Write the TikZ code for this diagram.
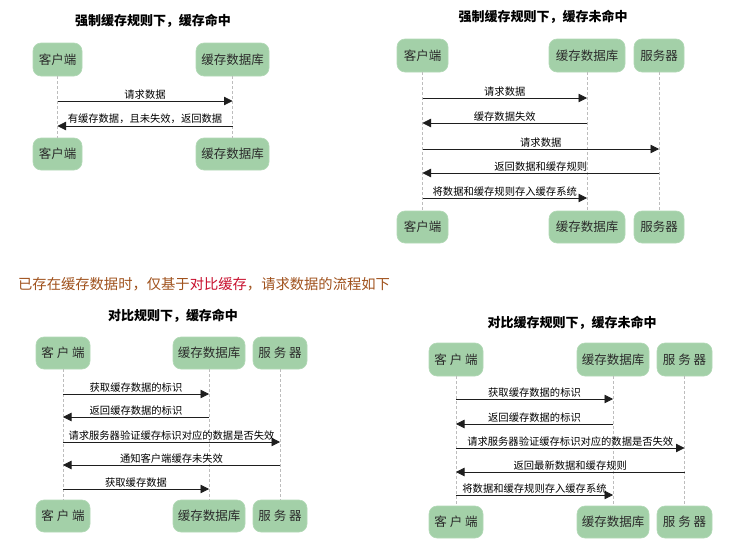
\documentclass[tikz,border=0pt]{standalone}
\usepackage{fontspec}
\setmainfont{Noto Sans CJK SC}
\usetikzlibrary{arrows.meta}
\definecolor{boxgreen}{HTML}{A3D0A8}
\definecolor{boxedge}{HTML}{B2D9B6}
\definecolor{boxtext}{HTML}{2B2B2B}
\definecolor{lifegray}{HTML}{BDBDBD}
\definecolor{msgline}{HTML}{1E1E1E}
\definecolor{noteb}{HTML}{A0521D}
\definecolor{noter}{HTML}{C8102E}
\tikzset{
  actor/.style={draw=boxedge, fill=boxgreen, rounded corners=8pt, line width=0.6pt,
    minimum height=33pt, inner sep=0pt, text=boxtext, font=\fontsize{12.5}{14}\selectfont},
  life/.style={draw=lifegray, dash pattern=on 3pt off 2pt, line width=0.7pt},
  msg/.style={draw=msgline, line width=0.8pt, -{Triangle[length=8.5pt,width=8.5pt]}},
  lbl/.style={midway, above, inner sep=1.5pt, font=\fontsize{10.3}{12}\selectfont, text=black},
  ttl/.style={font=\bfseries\fontsize{13}{15}\selectfont, text=black}
}
\begin{document}
\begin{tikzpicture}[x=1pt,y=-1pt]
\useasboundingbox[fill=white] (0,0) rectangle (732,549);

% ---------- Q1 ----------
\node[ttl] (t1) at (153,21) {强制缓存规则下，缓存命中};
\node[actor, minimum width=49pt] (a1c) at (57.5,59.5) {客户端};
\node[actor, minimum width=73pt] (a1d) at (232.5,59.5) {缓存数据库};
\node[actor, minimum width=49pt, minimum height=32pt] (b1c) at (57.5,154) {客户端};
\node[actor, minimum width=73pt, minimum height=32pt] (b1d) at (232.5,154) {缓存数据库};
\draw[life] (a1c) -- (b1c);
\draw[life] (a1d) -- (b1d);
\draw[msg] (a1c |- 0,101) -- node[lbl]{请求数据} (a1d |- 0,101);
\draw[msg] (a1d |- 0,126) -- node[lbl]{有缓存数据，且未失效，返回数据} (a1c |- 0,126);

% ---------- Q2 ----------
\node[ttl] (t2) at (543,17) {强制缓存规则下，缓存未命中};
\node[actor, minimum width=51pt] (a2c) at (422.5,55.5) {客户端};
\node[actor, minimum width=76pt] (a2d) at (587,55.5) {缓存数据库};
\node[actor, minimum width=50pt] (a2s) at (659,55.5) {服务器};
\node[actor, minimum width=51pt, minimum height=32pt] (b2c) at (422.5,227) {客户端};
\node[actor, minimum width=76pt, minimum height=32pt] (b2d) at (587,227) {缓存数据库};
\node[actor, minimum width=50pt, minimum height=32pt] (b2s) at (659,227) {服务器};
\draw[life] (a2c) -- (b2c);
\draw[life] (a2d) -- (b2d);
\draw[life] (a2s) -- (b2s);
\draw[msg] (a2c |- 0,98) -- node[lbl]{请求数据} (a2d |- 0,98);
\draw[msg] (a2d |- 0,123) -- node[lbl]{缓存数据失效} (a2c |- 0,123);
\draw[msg] (a2c |- 0,149) -- node[lbl]{请求数据} (a2s |- 0,149);
\draw[msg] (a2s |- 0,173) -- node[lbl]{返回数据和缓存规则} (a2c |- 0,173);
\draw[msg] (a2c |- 0,198) -- node[lbl]{将数据和缓存规则存入缓存系统} (a2d |- 0,198);

% ---------- middle note ----------
\node[anchor=west, inner sep=0pt, font=\fontsize{14.3}{16}\selectfont, text=noteb] (note) at (18,284)
  {已存在缓存数据时，仅基于\textcolor{noter}{对比缓存}，请求数据的流程如下};

% ---------- Q3 ----------
\node[ttl] (t3) at (173,316) {对比规则下，缓存命中};
\node[actor, minimum width=54pt, minimum height=32pt] (a3c) at (63,353) {客 户 端};
\node[actor, minimum width=72pt, minimum height=32pt] (a3d) at (209,353) {缓存数据库};
\node[actor, minimum width=54pt, minimum height=32pt] (a3s) at (280,353) {服 务 器};
\node[actor, minimum width=54pt, minimum height=32pt] (b3c) at (63,516) {客 户 端};
\node[actor, minimum width=72pt, minimum height=32pt] (b3d) at (209,516) {缓存数据库};
\node[actor, minimum width=54pt, minimum height=32pt] (b3s) at (280,516) {服 务 器};
\draw[life] (a3c) -- (b3c);
\draw[life] (a3d) -- (b3d);
\draw[life] (a3s) -- (b3s);
\draw[msg] (a3c |- 0,394) -- node[lbl]{获取缓存数据的标识} (a3d |- 0,394);
\draw[msg] (a3d |- 0,417) -- node[lbl]{返回缓存数据的标识} (a3c |- 0,417);
\draw[msg] (a3c |- 0,442) -- node[lbl]{请求服务器验证缓存标识对应的数据是否失效} (a3s |- 0,442);
\draw[msg] (a3s |- 0,465) -- node[lbl]{通知客户端缓存未失效} (a3c |- 0,465);
\draw[msg] (a3c |- 0,489) -- node[lbl]{获取缓存数据} (a3d |- 0,489);

% ---------- Q4 ----------
\node[ttl] (t4) at (572,323) {对比缓存规则下，缓存未命中};
\node[actor, minimum width=54pt] (a4c) at (456,359.5) {客 户 端};
\node[actor, minimum width=72pt] (a4d) at (613,359.5) {缓存数据库};
\node[actor, minimum width=55pt] (a4s) at (684.5,359.5) {服 务 器};
\node[actor, minimum width=54pt, minimum height=32pt] (b4c) at (456,522) {客 户 端};
\node[actor, minimum width=72pt, minimum height=32pt] (b4d) at (613,522) {缓存数据库};
\node[actor, minimum width=55pt, minimum height=32pt] (b4s) at (684.5,522) {服 务 器};
\draw[life] (a4c) -- (b4c);
\draw[life] (a4d) -- (b4d);
\draw[life] (a4s) -- (b4s);
\draw[msg] (a4c |- 0,399) -- node[lbl]{获取缓存数据的标识} (a4d |- 0,399);
\draw[msg] (a4d |- 0,424) -- node[lbl]{返回缓存数据的标识} (a4c |- 0,424);
\draw[msg] (a4c |- 0,448) -- node[lbl]{请求服务器验证缓存标识对应的数据是否失效} (a4s |- 0,448);
\draw[msg] (a4s |- 0,472) -- node[lbl]{返回最新数据和缓存规则} (a4c |- 0,472);
\draw[msg] (a4c |- 0,495) -- node[lbl]{将数据和缓存规则存入缓存系统} (a4d |- 0,495);
\end{tikzpicture}
\end{document}
